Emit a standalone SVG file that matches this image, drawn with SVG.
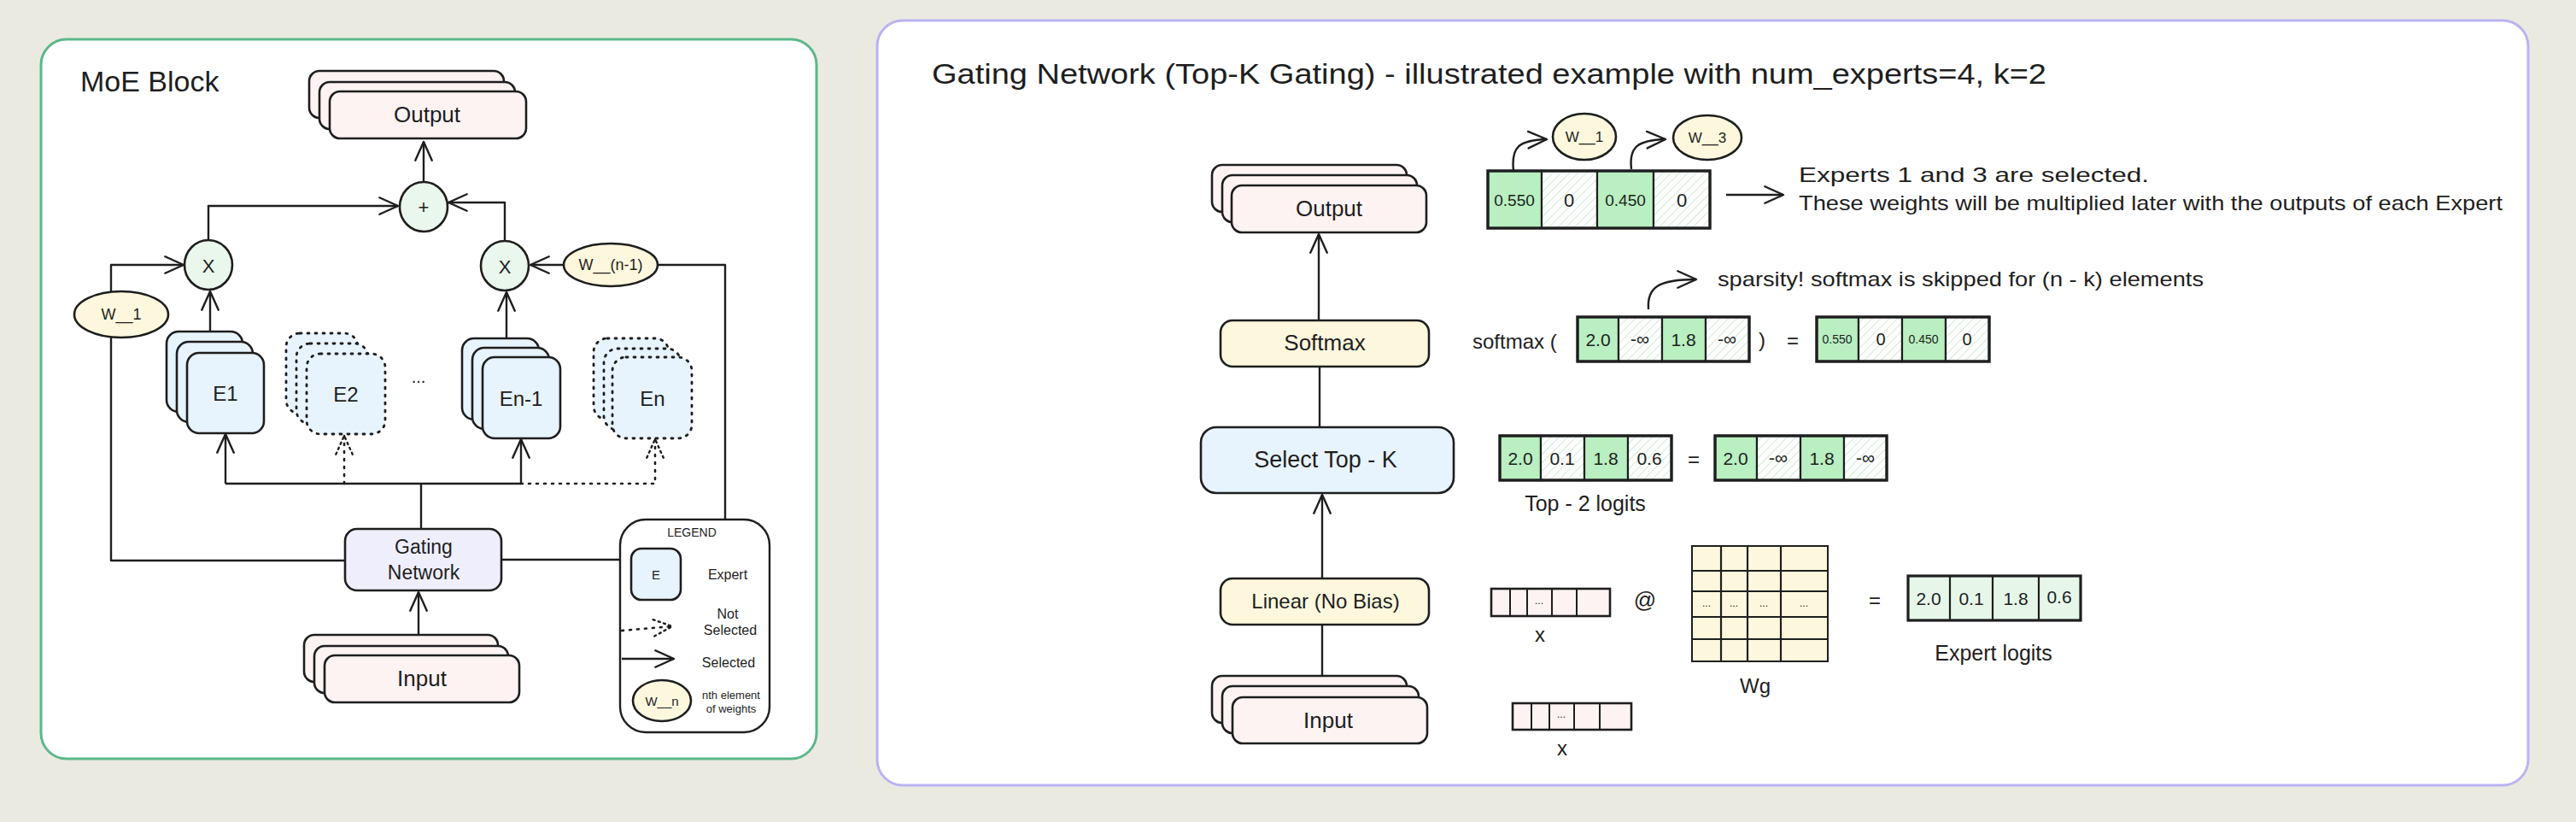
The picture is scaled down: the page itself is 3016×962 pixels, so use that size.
<svg xmlns="http://www.w3.org/2000/svg" width="3016" height="962" viewBox="0 0 3016 962">
<defs>
<marker id="arr" viewBox="0 0 24 24" refX="22" refY="12" markerWidth="26" markerHeight="26" markerUnits="userSpaceOnUse" orient="auto">
<path d="M2,3 L22,12 L2,21" fill="none" stroke="#1e1e1e" stroke-width="2.2" stroke-linecap="round" stroke-linejoin="round"/>
</marker>
<marker id="arrd" viewBox="0 0 24 24" refX="22" refY="12" markerWidth="26" markerHeight="26" markerUnits="userSpaceOnUse" orient="auto">
<path d="M2,3 L22,12 L2,21" fill="none" stroke="#1e1e1e" stroke-width="2.2" stroke-dasharray="2 4" stroke-linecap="round"/>
</marker>
<pattern id="hatch" width="7" height="7" patternUnits="userSpaceOnUse" patternTransform="rotate(45)">
<rect width="7" height="7" fill="#ffffff"/>
<line x1="0" y1="0" x2="0" y2="7" stroke="#b6e3bb" stroke-width="1.3"/>
</pattern>
<style>
.t{font-family:"Liberation Sans",Arial,sans-serif;fill:#1e1e1e;text-anchor:middle;dominant-baseline:central}
.l{text-anchor:start}
.ln{fill:none;stroke:#1e1e1e;stroke-width:2.4;stroke-linejoin:round}
.dot{fill:none;stroke:#1e1e1e;stroke-width:2.6;stroke-dasharray:2 7;stroke-linecap:round}
.box{stroke:#1e1e1e;stroke-width:2.6}
.dbox{stroke:#1e1e1e;stroke-width:2.8;stroke-dasharray:2 7;stroke-linecap:round;fill:#e7f3fd}
.pink{fill:#fdf3f3}
.blue{fill:#e7f3fd}
.yel{fill:#fdf8dd}
.lav{fill:#efeefc}
.grn{fill:#eaf7ec}
.gc{fill:#b9efc1;stroke:#1e1e1e;stroke-width:2.2}
.hc{fill:url(#hatch);stroke:#1e1e1e;stroke-width:2.2}
.vo{fill:none;stroke:#1e1e1e;stroke-width:3.4}
.pc{fill:#fdf3f3;stroke:#1e1e1e;stroke-width:2}
.yc{fill:#fdf8dd;stroke:#1e1e1e;stroke-width:2}
</style>
</defs>
<rect width="3016" height="962" fill="#ebeae1"/>

<g id="panel-moe">
<rect x="48" y="46" width="908" height="842" rx="30" fill="#ffffff" stroke="#5cb88a" stroke-width="3"/>
<text class="t l" x="94" y="95" font-size="34">MoE Block</text>
</g>
<g id="panel-gating">
<rect x="1027" y="24" width="1933" height="895" rx="30" fill="#ffffff" stroke="#bab3f3" stroke-width="3"/>
<text class="t l" x="1091" y="86" font-size="34" textLength="1305" lengthAdjust="spacingAndGlyphs">Gating Network (Top-K Gating) - illustrated example with num_experts=4, k=2</text>
</g>

<g id="connectors">
<path class="ln" d="M496,213 L496,166" marker-end="url(#arr)"/>
<path class="ln" d="M244,281 L244,241 L466,241" marker-end="url(#arr)"/>
<path class="ln" d="M591,282 L591,237 L525,237" marker-end="url(#arr)"/>
<path class="ln" d="M404,656 L130,656 L130,310 L215,310" marker-end="url(#arr)"/>
<path class="ln" d="M587,655 L849,655 L849,310 L621,310" marker-end="url(#arr)"/>
<path class="ln" d="M246,388 L246,341" marker-end="url(#arr)"/>
<path class="ln" d="M593,396 L593,342" marker-end="url(#arr)"/>
<path class="ln" d="M493,619 L493,566"/>
<path class="ln" d="M264,566 L610,566"/>
<path class="ln" d="M264,566 L264,508" marker-end="url(#arr)"/>
<path class="ln" d="M610,566 L610,514" marker-end="url(#arr)"/>
<path class="dot" d="M403,566 L403,510" marker-end="url(#arrd)"/>
<path class="dot" d="M610,566 L767,566 L767,514" marker-end="url(#arrd)"/>
<path class="ln" d="M490,756 L490,693" marker-end="url(#arr)"/>
<path class="ln" d="M1544,375 L1544,274" marker-end="url(#arr)"/>
<path class="ln" d="M1545,500 L1545,429"/>
<path class="ln" d="M1548,677 L1548,579" marker-end="url(#arr)"/>
<path class="ln" d="M1548,791 L1548,731"/>
<path class="ln" d="M1772,200 C1769,172 1778,164 1811,163" marker-end="url(#arr)"/>
<path class="ln" d="M1910,198 C1907,172 1917,164 1950,163" marker-end="url(#arr)"/>
<path class="ln" d="M1930,362 C1928,336 1942,327 1986,327" marker-end="url(#arr)"/>
<path class="ln" d="M2021,228 L2088,228" marker-end="url(#arr)"/>
</g>

<g id="moe-output">
<rect class="box pink" x="362" y="83" width="228" height="55" rx="12"/>
<rect class="box pink" x="374" y="96" width="229" height="55" rx="12"/>
<rect class="box pink" x="386" y="107" width="230" height="55" rx="12"/>
<text class="t" x="500" y="134" font-size="26">Output</text>
</g>
<g id="plus">
<ellipse class="box grn" cx="496" cy="242" rx="28" ry="29"/>
<text class="t" x="496" y="242" font-size="22">+</text>
</g>
<g id="mul-1">
<ellipse class="box grn" cx="244" cy="310" rx="28" ry="29"/>
<text class="t" x="244" y="311" font-size="22">X</text>
</g>
<g id="mul-n1">
<ellipse class="box grn" cx="591" cy="311" rx="28" ry="29"/>
<text class="t" x="591" y="312" font-size="22">X</text>
</g>
<g id="w1">
<ellipse class="box yel" cx="142" cy="368" rx="55" ry="27"/>
<text class="t" x="142" y="368" font-size="18">W__1</text>
</g>
<g id="wn1">
<ellipse class="box yel" cx="715" cy="310" rx="55" ry="25"/>
<text class="t" x="715" y="310" font-size="18">W__(n-1)</text>
</g>
<g id="e1">
<rect class="box blue" x="195" y="388" width="89" height="94" rx="14"/>
<rect class="box blue" x="207" y="400" width="89" height="94" rx="14"/>
<rect class="box blue" x="219" y="413" width="90" height="94" rx="14"/>
<text class="t" x="264" y="460" font-size="24">E1</text>
</g>
<g id="e2">
<rect class="dbox" x="335" y="390" width="84" height="94" rx="16"/>
<rect class="dbox" x="347" y="402" width="84" height="94" rx="16"/>
<rect class="dbox" x="359" y="414" width="92" height="94" rx="16"/>
<text class="t" x="405" y="461" font-size="24">E2</text>
</g>
<text class="t" x="490" y="441" font-size="20">...</text>
<g id="en1">
<rect class="box blue" x="541" y="396" width="90" height="95" rx="14"/>
<rect class="box blue" x="553" y="407" width="90" height="95" rx="14"/>
<rect class="box blue" x="565" y="418" width="91" height="95" rx="14"/>
<text class="t" x="610" y="466" font-size="24">En-1</text>
</g>
<g id="en">
<rect class="dbox" x="695" y="396" width="88" height="95" rx="16"/>
<rect class="dbox" x="707" y="408" width="90" height="95" rx="16"/>
<rect class="dbox" x="717" y="418" width="93" height="95" rx="16"/>
<text class="t" x="764" y="466" font-size="24">En</text>
</g>
<g id="gating">
<rect class="box lav" x="404" y="619" width="183" height="72" rx="14"/>
<text class="t" x="496" y="640" font-size="23">Gating</text>
<text class="t" x="496" y="670" font-size="23">Network</text>
</g>
<g id="moe-input">
<rect class="box pink" x="356" y="743" width="227" height="55" rx="12"/>
<rect class="box pink" x="368" y="756" width="227" height="55" rx="12"/>
<rect class="box pink" x="380" y="767" width="228" height="55" rx="12"/>
<text class="t" x="494" y="794" font-size="26">Input</text>
</g>
<g id="legend">
<rect x="726" y="608" width="175" height="249" rx="30" fill="#ffffff" stroke="#1e1e1e" stroke-width="2.4"/>
<text class="t" x="810" y="623" font-size="14">LEGEND</text>
<rect class="box blue" x="739" y="642" width="58" height="60" rx="12" stroke-width="1.8"/>
<text class="t" x="768" y="672" font-size="15">E</text>
<text class="t" x="852" y="672" font-size="16">Expert</text>
<path class="dot" d="M728,738 L787,733" marker-end="url(#arrd)" stroke-width="2" stroke-dasharray="2 6"/>
<text class="t" x="852" y="718" font-size="16">Not</text>
<text class="t" x="855" y="737" font-size="16">Selected</text>
<path class="ln" d="M728,771 L789,771" marker-end="url(#arr)" stroke-width="1.8"/>
<text class="t" x="853" y="775" font-size="16">Selected</text>
<ellipse class="box yel" cx="775" cy="820" rx="34" ry="24" stroke-width="1.8"/>
<text class="t" x="775" y="820" font-size="15">W__n</text>
<text class="t" x="856" y="813" font-size="13">nth element</text>
<text class="t" x="856" y="829" font-size="13">of weights</text>
</g>

<g id="gn-output">
<rect class="box pink" x="1419" y="193" width="228" height="55" rx="12"/>
<rect class="box pink" x="1431" y="205" width="228" height="55" rx="12"/>
<rect class="box pink" x="1442" y="217" width="228" height="55" rx="12"/>
<text class="t" x="1556" y="244" font-size="26">Output</text>
</g>
<g id="weights">
<rect class="gc" x="1742" y="200" width="63" height="67"/>
<rect class="hc" x="1805" y="200" width="65" height="67"/>
<rect class="gc" x="1870" y="200" width="66" height="67"/>
<rect class="hc" x="1936" y="200" width="66" height="67"/>
<rect class="vo" x="1742" y="200" width="260" height="67"/>
<text class="t" x="1773" y="234" font-size="19">0.550</text>
<text class="t" x="1837" y="234" font-size="22">0</text>
<text class="t" x="1903" y="234" font-size="19">0.450</text>
<text class="t" x="1969" y="234" font-size="22">0</text>
</g>
<g id="w1-top">
<ellipse class="box yel" cx="1855" cy="160" rx="37" ry="27" stroke-width="2.2"/>
<text class="t" x="1855" y="160" font-size="17">W__1</text>
</g>
<g id="w3-top">
<ellipse class="box yel" cx="1999" cy="161" rx="40" ry="26" stroke-width="2.2"/>
<text class="t" x="1999" y="161" font-size="17">W__3</text>
</g>
<g id="note-selected">
<text class="t l" x="2106" y="204" font-size="24" textLength="410" lengthAdjust="spacingAndGlyphs">Experts 1 and 3 are selected.</text>
<text class="t l" x="2106" y="237" font-size="24" textLength="824" lengthAdjust="spacingAndGlyphs">These weights will be multiplied later with the outputs of each Expert</text>
</g>
<g id="note-sparsity">
<text class="t l" x="2011" y="326" font-size="24" textLength="569" lengthAdjust="spacingAndGlyphs">sparsity! softmax is skipped for (n - k) elements</text>
</g>
<g id="softmax">
<rect class="box yel" x="1429" y="375" width="244" height="54" rx="14"/>
<text class="t" x="1551" y="401" font-size="26">Softmax</text>
</g>
<g id="softmax-expr">
<text class="t l" x="1724" y="399" font-size="24">softmax (</text>
<rect class="gc" x="1847" y="371" width="48" height="52"/>
<rect class="hc" x="1895" y="371" width="51" height="52"/>
<rect class="gc" x="1946" y="371" width="51" height="52"/>
<rect class="hc" x="1997" y="371" width="51" height="52"/>
<rect class="vo" x="1847" y="371" width="201" height="52"/>
<text class="t" x="1871" y="397" font-size="21">2.0</text>
<text class="t" x="1920" y="396" font-size="21">-∞</text>
<text class="t" x="1971" y="397" font-size="21">1.8</text>
<text class="t" x="2022" y="396" font-size="21">-∞</text>
<text class="t" x="2063" y="397" font-size="24">)</text>
<text class="t" x="2099" y="398" font-size="24">=</text>
<rect class="gc" x="2127" y="371" width="49" height="52"/>
<rect class="hc" x="2176" y="371" width="51" height="52"/>
<rect class="gc" x="2227" y="371" width="51" height="52"/>
<rect class="hc" x="2278" y="371" width="51" height="52"/>
<rect class="vo" x="2127" y="371" width="202" height="52"/>
<text class="t" x="2151" y="397" font-size="14">0.550</text>
<text class="t" x="2202" y="397" font-size="20">0</text>
<text class="t" x="2252" y="397" font-size="14">0.450</text>
<text class="t" x="2303" y="397" font-size="20">0</text>
</g>
<g id="select-topk">
<rect class="box blue" x="1406" y="500" width="296" height="77" rx="18"/>
<text class="t" x="1552" y="538" font-size="27">Select Top - K</text>
</g>
<g id="topk-expr">
<rect class="gc" x="1756" y="510" width="48" height="52"/>
<rect class="hc" x="1804" y="510" width="51" height="52"/>
<rect class="gc" x="1855" y="510" width="51" height="52"/>
<rect class="hc" x="1906" y="510" width="51" height="52"/>
<rect class="vo" x="1756" y="510" width="201" height="52"/>
<text class="t" x="1780" y="536" font-size="21">2.0</text>
<text class="t" x="1829" y="536" font-size="21">0.1</text>
<text class="t" x="1880" y="536" font-size="21">1.8</text>
<text class="t" x="1931" y="536" font-size="21">0.6</text>
<text class="t" x="1983" y="537" font-size="24">=</text>
<rect class="gc" x="2008" y="510" width="49" height="52"/>
<rect class="hc" x="2057" y="510" width="51" height="52"/>
<rect class="gc" x="2108" y="510" width="51" height="52"/>
<rect class="hc" x="2159" y="510" width="50" height="52"/>
<rect class="vo" x="2008" y="510" width="201" height="52"/>
<text class="t" x="2032" y="536" font-size="21">2.0</text>
<text class="t" x="2082" y="535" font-size="21">-∞</text>
<text class="t" x="2133" y="536" font-size="21">1.8</text>
<text class="t" x="2184" y="535" font-size="21">-∞</text>
<text class="t" x="1856" y="589" font-size="25">Top - 2 logits</text>
</g>
<g id="linear">
<rect class="box yel" x="1429" y="677" width="244" height="54" rx="14"/>
<text class="t" x="1552" y="703" font-size="24">Linear (No Bias)</text>
</g>
<g id="gn-input">
<rect class="box pink" x="1419" y="791" width="228" height="55" rx="12"/>
<rect class="box pink" x="1431" y="803" width="230" height="55" rx="12"/>
<rect class="box pink" x="1443" y="816" width="228" height="54" rx="12"/>
<text class="t" x="1555" y="843" font-size="26">Input</text>
</g>
<g id="x-vec">
<rect class="pc" x="1746" y="689" width="22" height="32"/>
<rect class="pc" x="1768" y="689" width="20" height="32"/>
<rect class="pc" x="1788" y="689" width="29" height="32"/>
<rect class="pc" x="1817" y="689" width="29" height="32"/>
<rect class="pc" x="1846" y="689" width="39" height="32"/>
<rect x="1746" y="689" width="139" height="32" fill="none" stroke="#1e1e1e" stroke-width="2.6"/>
<text class="t" x="1802" y="703" font-size="12">...</text>
<text class="t" x="1803" y="742" font-size="24">x</text>
</g>
<text class="t" x="1926" y="702" font-size="26">@</text>
<g id="wg">
<rect class="yc" x="1981" y="639" width="159" height="135" stroke-width="2.8"/>
<path d="M2015,639 V774 M2046,639 V774 M2085,639 V774 M1981,668 H2140 M1981,692 H2140 M1981,722 H2140 M1981,748 H2140" stroke="#1e1e1e" stroke-width="2.2" fill="none"/>
<text class="t" x="1998" y="706" font-size="12">...</text>
<text class="t" x="2030" y="706" font-size="12">...</text>
<text class="t" x="2065" y="706" font-size="12">...</text>
<text class="t" x="2112" y="706" font-size="12">...</text>
<text class="t" x="2055" y="802" font-size="24">Wg</text>
</g>
<text class="t" x="2195" y="702" font-size="24">=</text>
<g id="expert-logits">
<rect x="2234" y="674" width="202" height="52" fill="#e6f7ea" stroke="#1e1e1e" stroke-width="3.2"/>
<path d="M2283,674 V726 M2333,674 V726 M2387,674 V726" stroke="#1e1e1e" stroke-width="2.2"/>
<text class="t" x="2258" y="700" font-size="21">2.0</text>
<text class="t" x="2308" y="700" font-size="21">0.1</text>
<text class="t" x="2360" y="700" font-size="21">1.8</text>
<text class="t" x="2411" y="698" font-size="21">0.6</text>
<text class="t" x="2334" y="764" font-size="25">Expert logits</text>
</g>
<g id="x-vec2">
<rect class="pc" x="1771" y="823" width="22" height="31"/>
<rect class="pc" x="1793" y="823" width="21" height="31"/>
<rect class="pc" x="1814" y="823" width="29" height="31"/>
<rect class="pc" x="1843" y="823" width="30" height="31"/>
<rect class="pc" x="1873" y="823" width="37" height="31"/>
<rect x="1771" y="823" width="139" height="31" fill="none" stroke="#1e1e1e" stroke-width="2.6"/>
<text class="t" x="1828" y="836" font-size="12">...</text>
<text class="t" x="1829" y="875" font-size="24">x</text>
</g>
</svg>
